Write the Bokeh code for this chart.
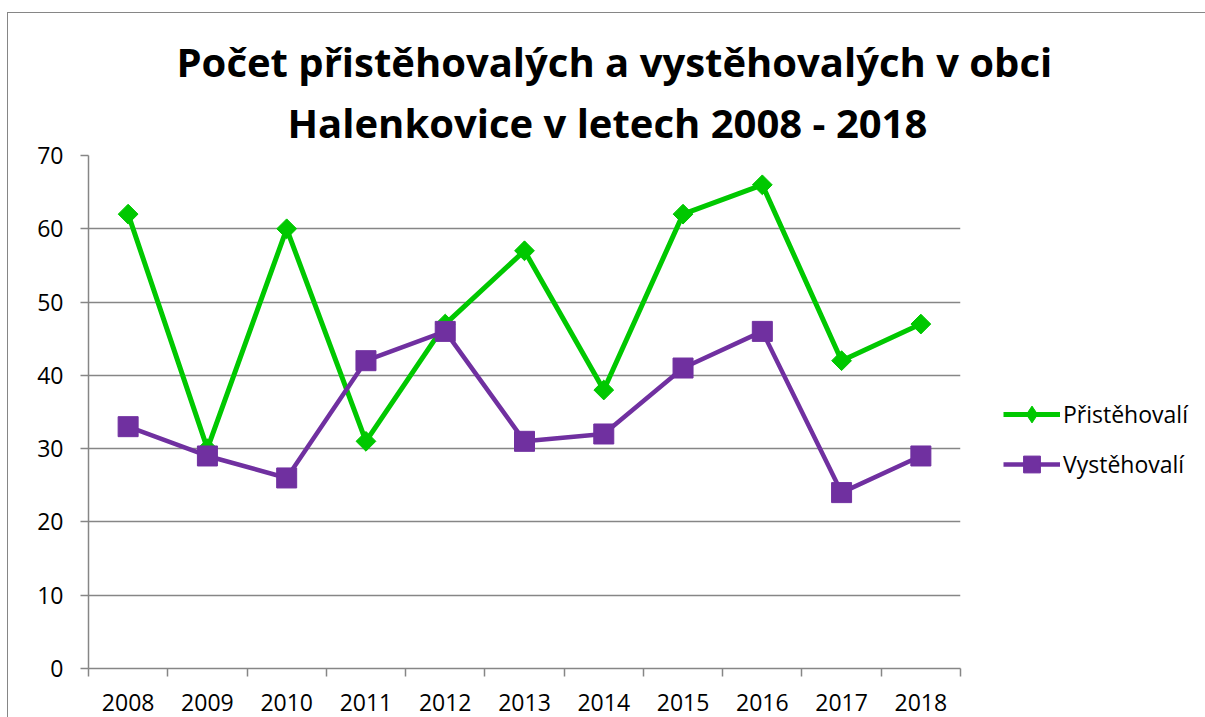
from bokeh.plotting import figure
from bokeh.models import Legend, LegendItem, FixedTicker, Title, Range1d
from bokeh.embed import file_html
from bokeh.resources import INLINE

years = ["2008", "2009", "2010", "2011", "2012", "2013", "2014", "2015", "2016", "2017", "2018"]
pristehovali = [62, 30, 60, 31, 47, 57, 38, 62, 66, 42, 47]
vystehovali = [33, 29, 26, 42, 46, 31, 32, 41, 46, 24, 29]
y_ticks = [0, 10, 20, 30, 40, 50, 60, 70]

title_line1 = "Počet přistěhovalých a vystěhovalých v obci"
title_line2 = "Halenkovice v letech 2008 - 2018"

GREEN = "#00C800"
PURPLE = "#7030A0"
GRAY = "#868686"
FONT = "Open Sans"

n = len(years)
xs = [i + 0.5 for i in range(n)]

p = figure(frame_width=872, frame_height=513,
           min_border_left=80, min_border_right=239, min_border_top=142, min_border_bottom=50,
           x_range=Range1d(0, n), y_range=Range1d(0, 70),
           output_backend="svg", toolbar_location=None, title=None)
p.styles = {"border": "1px solid " + GRAY, "margin-top": "12px", "margin-left": "7px"}
p.outline_line_color = None

t2 = Title(text=title_line2, align="left", text_font=FONT, text_font_size="40px",
           text_font_style="bold", text_color="black", offset=199, standoff=12)
t1 = Title(text=title_line1, align="left", text_font=FONT, text_font_size="40px",
           text_font_style="bold", text_color="black", offset=88, standoff=-4)
p.add_layout(t2, "above")
p.add_layout(t1, "above")

# x axis: labels at category centres, ticks at category boundaries
p.xaxis.ticker = FixedTicker(ticks=xs, minor_ticks=list(range(n + 1)))
p.xaxis.major_label_overrides = {x: y for x, y in zip(xs, years)}
p.xaxis.major_tick_out = 0
p.xaxis.major_tick_in = 0
p.xaxis.minor_tick_out = 8
p.xaxis.minor_tick_in = 0
p.xaxis.minor_tick_line_color = GRAY
p.xaxis.minor_tick_line_width = 1.5
p.xaxis.axis_line_color = GRAY
p.xaxis.axis_line_width = 1.5
p.xaxis.major_label_text_font = FONT
p.xaxis.major_label_text_font_size = "23px"
p.xaxis.major_label_text_color = "black"
p.xaxis.major_label_standoff = 17

p.yaxis.ticker = FixedTicker(ticks=y_ticks, minor_ticks=[])
p.yaxis.major_tick_out = 8
p.yaxis.major_tick_in = 0
p.yaxis.major_tick_line_color = GRAY
p.yaxis.major_tick_line_width = 1.5
p.yaxis.axis_line_color = GRAY
p.yaxis.axis_line_width = 1.5
p.yaxis.major_label_text_font = FONT
p.yaxis.major_label_text_font_size = "23px"
p.yaxis.major_label_text_color = "black"
p.yaxis.major_label_standoff = 17

p.xgrid.visible = False
p.ygrid.ticker = FixedTicker(ticks=y_ticks)
p.ygrid.grid_line_color = GRAY
p.ygrid.grid_line_width = 1.5

l1 = p.line(xs, pristehovali, line_color=GREEN, line_width=5)
# diamond key (used for the legend), drawn beneath the wider rotated-square markers
k1 = p.scatter(xs, pristehovali, marker="diamond", size=18, fill_color=GREEN, line_color=GREEN)
m1 = p.scatter(xs, pristehovali, marker="square", size=14, angle=0.7854,
               fill_color=GREEN, line_color=GREEN)
l2 = p.line(xs, vystehovali, line_color=PURPLE, line_width=4.5)
m2 = p.scatter(xs, vystehovali, marker="square", size=20,
               fill_color=PURPLE, line_color=PURPLE)

legend = Legend(items=[LegendItem(label="Přistěhovalí", renderers=[l1, k1]),
                       LegendItem(label="Vystěhovalí", renderers=[l2, m2])],
                location=(43, 183), glyph_width=57, glyph_height=42, spacing=8,
                label_standoff=3, padding=0, margin=0,
                border_line_color=None, background_fill_alpha=0,
                label_text_font=FONT, label_text_font_size="23px", label_text_color="black")
p.add_layout(legend, "right")

open("out.html", "w").write(file_html(p, INLINE))
